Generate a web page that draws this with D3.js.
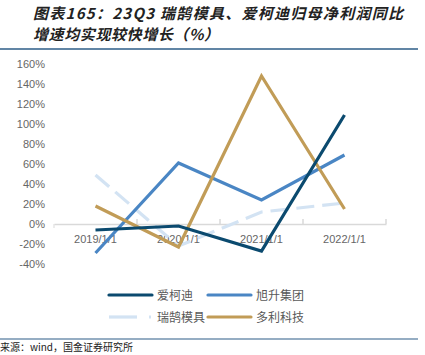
<!DOCTYPE html>
<html><head><meta charset="utf-8">
<script src="https://cdn.jsdelivr.net/npm/d3@7"></script>
<style>body{margin:0;background:#fff;}svg{display:block;}</style>
</head><body>
<svg id="c" width="425" height="355"></svg>
<script>
const categories = ["2019/1/1","2020/1/1","2021/1/1","2022/1/1"];
const seriesNames = ["爱柯迪","旭升集团","瑞鹄模具","多利科技"];
const aikedi = [-6, -2, -27, 109];
const xusheng = [-29, 61, 24, 69];
const ruihu = [49, -22, 12, 21];
const duoli = [18, -23, 148, 15];
const yTicks = [-40,-20,0,20,40,60,80,100,120,140,160];

const colors = ["#0b4a6f","#4a86c4","#d3e3f3","#c19c57"];
const dashes = [null,null,"18,8",null];
const data = [aikedi, xusheng, ruihu, duoli];

const svg = d3.select("#c");
const font = "'Noto Sans CJK SC', 'Liberation Sans', sans-serif";

// title
svg.append("text").attr("x",33).attr("y",19).attr("font-family",font).attr("font-size",15)
  .attr("font-weight","bold").attr("font-style","italic").attr("fill","#222")
  .attr("textLength",370).attr("lengthAdjust","spacing")
  .text("图表165：23Q3 瑞鹄模具、爱柯迪归母净利润同比");
svg.append("text").attr("x",33).attr("y",40).attr("font-family",font).attr("font-size",15)
  .attr("font-weight","bold").attr("font-style","italic").attr("fill","#222")
  .attr("textLength",186).attr("lengthAdjust","spacing")
  .text("增速均实现较快增长（%）");
svg.append("line").attr("x1",0).attr("x2",418).attr("y1",49).attr("y2",49)
  .attr("stroke","#2c5d87").attr("stroke-width",1.5);

const x = d3.scaleBand().domain(categories).range([54,386]);
const y = d3.scaleLinear().domain([-40,160]).range([264,64]);

// y tick labels
svg.append("g").selectAll("text").data(yTicks).join("text")
  .attr("x",45).attr("y",d=>y(d)+4).attr("text-anchor","end")
  .attr("font-family","'Liberation Sans', Arial, sans-serif").attr("font-size",11).attr("fill","#666")
  .text(d=>d+"%");

// x axis at zero
const xAxis = d3.axisBottom(x).tickSize(0).tickFormat("");
const gx = svg.append("g").attr("transform",`translate(0,${y(0)})`).call(xAxis);
gx.select(".domain").attr("stroke","#d9d9d9").attr("stroke-width",1.5);
// band boundary ticks
svg.append("g").selectAll("line").data(categories).join("line")
  .attr("x1",d=>x(d)+x.bandwidth()).attr("x2",d=>x(d)+x.bandwidth())
  .attr("y1",y(0)).attr("y2",y(0)-5).attr("stroke","#d9d9d9").attr("stroke-width",1.5);
svg.append("line").attr("x1",x.range()[0]).attr("x2",x.range()[0]).attr("y1",y(0)).attr("y2",y(0)+4)
  .attr("stroke","#d9d9d9");

// x labels
svg.append("g").selectAll("text").data(categories).join("text")
  .attr("x",d=>x(d)+x.bandwidth()/2).attr("y",243).attr("text-anchor","middle")
  .attr("font-family","'Liberation Sans', Arial, sans-serif").attr("font-size",11).attr("fill","#666")
  .text(d=>d);

// lines
const line = d3.line().x((d,i)=>x(categories[i])+x.bandwidth()/2).y(d=>y(d));
const order = [2,1,3,0];
order.forEach(k=>{
  svg.append("path").datum(data[k]).attr("d",line).attr("fill","none")
    .attr("stroke",colors[k]).attr("stroke-width",3.2)
    .attr("stroke-dasharray",dashes[k]);
});

// legend
const leg = [{k:0,x:109,y:295},{k:1,x:208,y:295},{k:2,x:109,y:317},{k:3,x:208,y:317}];
leg.forEach(o=>{
  const g = svg.append("g");
  if (dashes[o.k]) {
    g.append("line").attr("x1",o.x).attr("x2",o.x+28).attr("y1",o.y).attr("y2",o.y)
      .attr("stroke",colors[o.k]).attr("stroke-width",3.2);
    g.append("line").attr("x1",o.x+40).attr("x2",o.x+42).attr("y1",o.y).attr("y2",o.y)
      .attr("stroke",colors[o.k]).attr("stroke-width",3.2);
  } else {
    g.append("line").attr("x1",o.x).attr("x2",o.x+43).attr("y1",o.y).attr("y2",o.y)
      .attr("stroke",colors[o.k]).attr("stroke-width",3.2).attr("stroke-linecap","round");
  }
  g.append("text").attr("x",o.x+48).attr("y",o.y+4.5)
    .attr("font-family",font).attr("font-size",12).attr("fill","#595959")
    .text(seriesNames[o.k]);
});

// bottom line + source
svg.append("line").attr("x1",0).attr("x2",418).attr("y1",339).attr("y2",339)
  .attr("stroke","#2c5d87").attr("stroke-width",1.2);
svg.append("text").attr("x",0).attr("y",351).attr("font-family",font).attr("font-size",10)
  .attr("fill","#222").text("来源：wind，国金证券研究所");
</script>
</body></html>
